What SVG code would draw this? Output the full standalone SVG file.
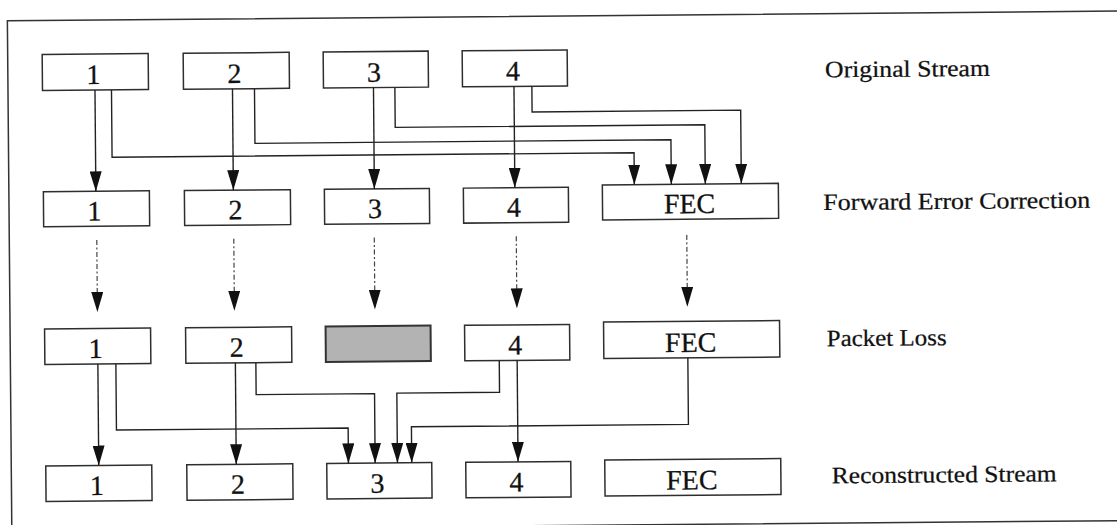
<svg xmlns="http://www.w3.org/2000/svg" width="1117" height="525" viewBox="0 0 1117 525">
<defs>
<style>
.box{fill:#fff;stroke:#2e2e2e;stroke-width:1.5}
.lost{fill:#b3b3b3;stroke:#333;stroke-width:2}
.t{font-family:"Liberation Serif","Times New Roman",serif;font-size:28px;fill:#111;stroke:#111;stroke-width:0.3;text-anchor:middle}
.lbl{font-family:"Liberation Serif","Times New Roman",serif;font-size:23.5px;fill:#111;stroke:#111;stroke-width:0.25}
.ln{fill:none;stroke:#222;stroke-width:1.4;marker-end:url(#ah)}
.dot{fill:none;stroke:#444;stroke-width:1.2;stroke-dasharray:5 2.5 2 2.5;marker-end:url(#ah)}
.frame{fill:none;stroke:#333;stroke-width:1.5}
</style>
<marker id="ah" viewBox="0 0 20 12" refX="20" refY="6" markerWidth="20" markerHeight="12" markerUnits="userSpaceOnUse" orient="auto"><path d="M0,0L20,6L0,12z" fill="#111"/></marker>
</defs>
<rect width="1117" height="525" fill="#fff"/>
<g transform="rotate(-0.5 558 262)">
<rect class="frame" x="9.5" y="16" width="1120" height="509.5"/>

<g id="labels" transform="scale(1.12 1)">
<text class="lbl" x="738.1" y="79.7" textLength="147.3" lengthAdjust="spacingAndGlyphs">Original Stream</text>
<text class="lbl" x="735.5" y="212.4" textLength="238.4" lengthAdjust="spacingAndGlyphs">Forward Error Correction</text>
<text class="lbl" x="737.5" y="348.6" textLength="107.1" lengthAdjust="spacingAndGlyphs">Packet Loss</text>
<text class="lbl" x="740.9" y="485.7" textLength="200.9" lengthAdjust="spacingAndGlyphs">Reconstructed Stream</text>
</g>

<g id="orig-1"><rect class="box" x="44" y="50" width="106" height="36"/><text class="t" x="95" y="80">1</text></g>
<g id="orig-2"><rect class="box" x="185" y="50" width="106" height="36"/><text class="t" x="236" y="80">2</text></g>
<g id="orig-3"><rect class="box" x="325" y="50" width="105" height="36"/><text class="t" x="375.5" y="80">3</text></g>
<g id="orig-4"><rect class="box" x="464" y="50" width="105" height="36"/><text class="t" x="514.5" y="80">4</text></g>

<g id="fec-1"><rect class="box" x="44" y="187.3" width="106" height="35"/><text class="t" x="95" y="216.3">1</text></g>
<g id="fec-2"><rect class="box" x="185" y="187.3" width="106" height="35"/><text class="t" x="236" y="216.3">2</text></g>
<g id="fec-3"><rect class="box" x="325" y="187.3" width="105" height="35"/><text class="t" x="375.5" y="216.3">3</text></g>
<g id="fec-4"><rect class="box" x="464" y="187.3" width="105" height="35"/><text class="t" x="514.5" y="216.3">4</text></g>
<g id="fec-fec"><rect class="box" x="603" y="185.3" width="176" height="35"/><text class="t" x="690" y="214.3">FEC</text></g>

<g id="loss-1"><rect class="box" x="44" y="324.5" width="106" height="35.5"/><text class="t" x="95" y="354">1</text></g>
<g id="loss-2"><rect class="box" x="185" y="324.5" width="106" height="35.5"/><text class="t" x="236" y="354">2</text></g>
<g id="loss-3"><rect class="lost" x="325" y="324.5" width="105" height="35.5"/></g>
<g id="loss-4"><rect class="box" x="464" y="324.5" width="105" height="35.5"/><text class="t" x="514.5" y="354">4</text></g>
<g id="loss-fec"><rect class="box" x="603" y="322.5" width="176" height="36.5"/><text class="t" x="690" y="353">FEC</text></g>

<g id="rec-1"><rect class="box" x="44" y="461.5" width="106" height="35.5"/><text class="t" x="95" y="491">1</text></g>
<g id="rec-2"><rect class="box" x="185" y="461.5" width="106" height="35.5"/><text class="t" x="236" y="491">2</text></g>
<g id="rec-3"><rect class="box" x="325" y="461.5" width="105" height="35.5"/><text class="t" x="375.5" y="491">3</text></g>
<g id="rec-4"><rect class="box" x="464" y="461.5" width="105" height="35.5"/><text class="t" x="514.5" y="491">4</text></g>
<g id="rec-fec"><rect class="box" x="603" y="460.5" width="176" height="36"/><text class="t" x="690" y="490.5">FEC</text></g>

<g id="connectors">
<path class="ln" d="M96.5,86V187.3"/>
<path class="ln" d="M234,86V187.3"/>
<path class="ln" d="M375,86V187.3"/>
<path class="ln" d="M515.5,86V187.3"/>
<path class="ln" d="M113,86V153.4H635V185.3"/>
<path class="ln" d="M256,86V140.7H672V185.3"/>
<path class="ln" d="M396.4,86V126H706V185.3"/>
<path class="ln" d="M533.4,86V111.7H742V185.3"/>

<path class="dot" d="M97,236V308"/>
<path class="dot" d="M234,236V308"/>
<path class="dot" d="M374.5,236V308"/>
<path class="dot" d="M516.5,236V308"/>
<path class="dot" d="M687,236V308"/>

<path class="ln" d="M97,360V461.5"/>
<path class="ln" d="M234.5,360V461.5"/>
<path class="ln" d="M516.3,360V461.5"/>
<path class="ln" d="M115,360V426.2H346.7V461.5"/>
<path class="ln" d="M255,360V392H373.4V461.5"/>
<path class="ln" d="M498.4,360V391.7H395.7V461.5"/>
<path class="ln" d="M687,359V425.5H410V461.5"/>
</g>
</g>
</svg>
